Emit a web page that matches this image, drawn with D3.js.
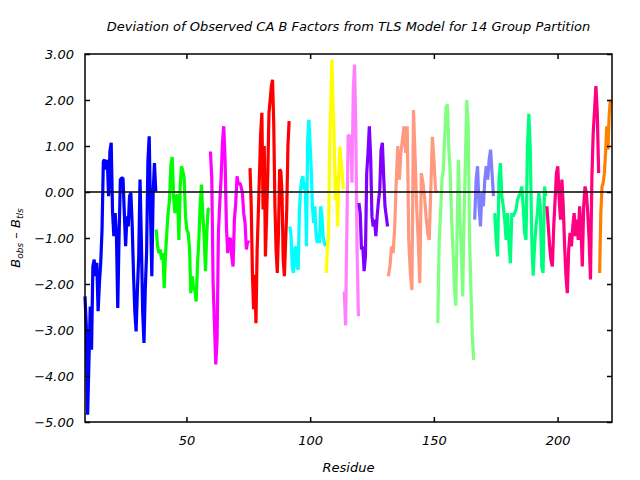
<!DOCTYPE html>
<html>
<head>
<meta charset="utf-8">
<script src="https://cdn.jsdelivr.net/npm/d3@7"></script>
<style>
  body { margin: 0; background: #fff; }
  text { font-family: "DejaVu Sans", sans-serif; font-style: italic; }
</style>
</head>
<body>
<svg width="640" height="480"></svg>
<script>
// One colour per TLS group, the residue span each group covers, and the sampled deviations
const groupColors = ["#0000ff", "#00ff00", "#ff00ff", "#ff0000", "#00ffff", "#ffff00", "#ff80ff",
                     "#8000ff", "#ff9980", "#80ff80", "#8080ff", "#00ff80", "#ff0080", "#ff8000"];
const groupStarts = [9, 37.8, 59.7, 75.7, 91.8, 106.5, 113.8, 119.7, 131.6, 151.6, 166.5, 174.6, 195.7, 217];
const groupEnds   = [37.6, 59.3, 75.3, 91.5, 106.2, 113.4, 119.5, 131.3, 151.3, 166.1, 174.1, 195.3, 216.6, 221.8];
const groupValues = [
  [-2.27, -2.92, -4.84, -3.7, -2.49, -3.43, -1.62, -1.47, -1.83, -1.54, -2.59, -1.98, -1.54, -0.82, 0.67, 0.70, 0.49, 0.70, -0.09, 0.88,
   1.07, -0.42, -0.96, -0.46, -0.96, -2.52, -0.96, 0.27, 0.30, 0.30, -0.46, -1.18, -0.53, -0.75, -0.09, -0.02, -0.71, -1.76, -2.59, -3.03,
   -2.12, -1.40, 0.27, -1.04, -2.59, -3.28, -2.12, -1.33, 0.67, 1.21, -0.46, -1.83, -0.02, 0.63, 0.01],
  [-0.82, -1.18, -1.33, -1.25, -1.47, -1.33, -2.09, -1.33, -0.86, -0.42, -0.17, 0.59, 0.76, -0.09, -0.46, -0.09, -0.06, -1.04, 0.12, 0.56,
   0.45, 0.30, -0.53, -0.82, -0.89, -1.22, -2.2, -1.83, -2.09, -2.12, -2.38, -1.58, -1.07, -0.31, 0.16, -0.49, -0.96, -1.72, -0.89, -0.38, -0.35],
  [0.88, 0.30, -1.98, -2.85, -3.75, -3.2, -0.89, -0.24, 0.30, 1.06, 1.43, 0.70, -0.75, -1.33, -1.04,
   -1.0, -1.4, -1.62, -0.6, -0.24, 0.34, 0.16, 0.2, 0.12, -0.02, -0.46, -0.67, -1.25, -1.07, -1.11],
  [0.52, -0.28, -1.76, -2.55, -1.8, -2.85, -1.25, -0.46, 0.41, 1.28, 1.72, -0.38, 1.0, -1.4, -0.53, 0.41, 1.72, 2.0, 2.3, 2.44,
   1.5, -0.28, -1.25, -1.76, -0.89, 0.49, 0.45, -0.02, -1.47, -1.83, -1.11, -0.38, 1.0, 1.54],
  [-0.75, -0.96, -1.62, -1.76, -1.25, -1.18, -1.62, -1.69, -0.46, 0.05, 0.27, 0.34, 0.05,
   0.2, -1.18, 1.14, 1.57, 1.06, 0.49, -0.31, -0.67, -0.31, -0.89, -1.11, -0.89, -1.11, -0.31, -0.53, -0.96, -1.11, -1.18],
  [-1.76, -1.25, -0.96, 0.92, 1.93, 2.88, 1.86, 1.14, -0.17, 0.34, -0.75, 0.41, 0.99, 0.7, 0.41, 0.05],
  [-2.16, -2.9, -0.82, 1.24, 1.21, 1.21, 0.2, 2.22, 2.77, 1.35, -1.33, -2.7],
  [-0.24, -0.46, -1.25, -1.18, -1.72, -1.4, 0.41, 0.85, 1.43, 0.77, -0.53, -0.75, -0.6, -0.96, -0.53, -0.2, 0.05, 0.92, 1.07, 0.34,
   -0.31, -0.53, -0.75],
  [-1.83, -1.62, -1.18, -1.33, -0.82, 0.2, 1.0, 0.27, 0.85, 1.14, 1.43, 0.85, 1.43, -1.04, -1.76, -2.13, 1.78, 0.78, -0.31, -1.04,
   -1.98, 0.41, 0.2, -0.09, -0.53, -0.89, -1.04, 0.05, 1.2, 0.7, 0.05, -0.02],
  [-2.85, -1.04, -0.46, 0.27, 0.49, 1.2, 1.86, 1.9, 0.92, 0.41, -0.6, -1.25, -2.05, -2.47, -0.75, 0.70, -0.6, -1.25, -2.27, -0.6,
   0.70, 2.0, 1.43, -1.04, -2.13, -3.14, -3.65],
  [-0.6, 0.27, 0.56, -0.31, -0.75, -0.02, -0.31, 0.27, 0.56, 0.27, 0.7, 0.92, 0.41, -0.09],
  [-0.46, -1.04, -1.4, 0.27, 0.63, -0.09, -0.31, -0.6, -1.04, -0.46, -1.11, -1.55, -0.46, -0.53, -0.46, -0.38, -0.17, -0.09, -0.02, 0.12,
   -0.31, -0.89, -1.04, 1.0, 1.7, 0.92, -0.96, -1.82, -1.18, -0.75, -0.46, -0.02, -0.31, -1.62, -1.76, 0.12, -0.09],
  [-0.31, -0.75, -1.18, -1.48, -1.62, -0.75, -0.17, 0.41, 0.56, -0.17, -0.6, 0.27, -0.31, -1.18, -1.84, -2.2, -1.25, -0.89, -1.18, -0.75,
   -0.46, -0.96, -0.6, -1.04, -0.31, -0.75, -1.62, -0.31, 0.12, -0.02, -0.46, -1.04, -1.9, 0.27, 1.28, 1.78, 2.3, 1.72, 0.41],
  [-1.76, -0.46, 0.12, 0.2, 0.41, 0.85, 1.43, 0.92, 1.65, 2.0, 1.93]
];
const xTicks = [50, 100, 150, 200];
const yTicks = [3, 2, 1, 0, -1, -2, -3, -4, -5];

const svg = d3.select("svg");
const margin = { left: 85, right: 28, top: 54, bottom: 58 };
const width = 640, height = 480;

const x = d3.scaleLinear().domain([9, 222]).range([margin.left, width - margin.right]);
const y = d3.scaleLinear().domain([-5, 3]).range([height - margin.bottom, margin.top]);

// Series: one path per TLS group, samples spread evenly over the group's residue span
const line = d3.line().x(d => x(d[0])).y(d => y(d[1]));
groupValues.forEach((vals, g) => {
  const pos = d3.scaleLinear().domain([0, vals.length - 1]).range([groupStarts[g], groupEnds[g]]);
  const pts = vals.map((v, i) => [pos(i), v]);
  svg.append("path")
    .datum(pts)
    .attr("d", line)
    .attr("fill", "none")
    .attr("stroke", groupColors[g])
    .attr("stroke-width", 3.2)
    .attr("stroke-linejoin", "bevel");
});

// Zero line
svg.append("line")
  .attr("x1", x(9)).attr("x2", x(222))
  .attr("y1", y(0)).attr("y2", y(0))
  .attr("stroke", "#000").attr("stroke-width", 1.5);

// Axes with ticks pointing inward on all four sides
const axisStyle = g => {
  g.select(".domain").remove();
  g.selectAll(".tick line").attr("stroke", "#000").attr("stroke-width", 1.5);
};
svg.append("g")
  .attr("transform", `translate(0,${y(-5)})`)
  .call(d3.axisBottom(x).tickValues(xTicks).tickSize(-5).tickPadding(14).tickFormat(d3.format("d")))
  .call(axisStyle)
  .call(g => g.selectAll("text").attr("font-size", 13).attr("fill", "#000"));
svg.append("g")
  .attr("transform", `translate(0,${y(3)})`)
  .call(d3.axisTop(x).tickValues(xTicks).tickSize(-5).tickFormat(""))
  .call(axisStyle);
svg.append("g")
  .attr("transform", `translate(${x(9)},0)`)
  .call(d3.axisLeft(y).tickValues(yTicks).tickSize(-5).tickPadding(11).tickFormat(d3.format(".2f")))
  .call(axisStyle)
  .call(g => g.selectAll("text").attr("font-size", 13).attr("fill", "#000"));
svg.append("g")
  .attr("transform", `translate(${x(222)},0)`)
  .call(d3.axisRight(y).tickValues(yTicks).tickSize(-5).tickFormat(""))
  .call(axisStyle);

// Frame
svg.append("rect")
  .attr("x", x(9)).attr("y", y(3))
  .attr("width", x(222) - x(9)).attr("height", y(-5) - y(3))
  .attr("fill", "none").attr("stroke", "#000").attr("stroke-width", 1.5);

// Title and axis labels
svg.append("text")
  .attr("x", (x(9) + x(222)) / 2).attr("y", 31)
  .attr("text-anchor", "middle").attr("font-size", 13)
  .text("Deviation of Observed CA B Factors from TLS Model for 14 Group Partition");

svg.append("text")
  .attr("x", (x(9) + x(222)) / 2).attr("y", 472)
  .attr("text-anchor", "middle").attr("font-size", 13)
  .text("Residue");

const yl = svg.append("text")
  .attr("transform", `translate(20,${(y(3) + y(-5)) / 2}) rotate(-90)`)
  .attr("text-anchor", "middle").attr("font-size", 13);
yl.append("tspan").text("B");
yl.append("tspan").attr("font-size", 9).attr("dy", 3).text("obs");
yl.append("tspan").attr("dy", -3).text(" \u2013 B");
yl.append("tspan").attr("font-size", 9).attr("dy", 3).text("tls");
</script>
</body>
</html>
